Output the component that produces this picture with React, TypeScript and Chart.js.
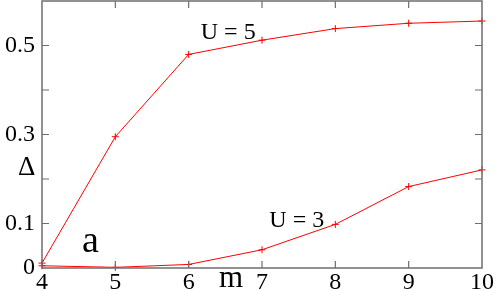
import React, { useEffect, useRef } from "react";
import { Chart, registerables } from "chart.js";

Chart.register(...registerables);

const mValues = [4, 5, 6, 7, 8, 9, 10];
const deltaU5 = [0.011, 0.295, 0.48, 0.512, 0.538, 0.55, 0.555];
const deltaU3 = [0.005, 0.0015, 0.008, 0.041, 0.098, 0.183, 0.2205];
const yTickLabels = ["0", "0.1", "0.3", "0.5"];

const FONT = "'Liberation Serif', serif";

const framePlugin = {
  id: "frame",
  afterDraw(chart: any) {
    const { ctx, chartArea: a, scales } = chart;
    const xs = scales.x;
    const ys = scales.y;
    ctx.save();
    ctx.strokeStyle = "#6e6e6e";
    ctx.lineWidth = 1.5;
    ctx.strokeRect(a.left, a.top, a.right - a.left, a.bottom - a.top);
    ctx.lineWidth = 1.2;
    const tl = 7;
    ctx.beginPath();
    for (let m = 5; m <= 9; m++) {
      const px = xs.getPixelForValue(m);
      ctx.moveTo(px, a.bottom);
      ctx.lineTo(px, a.bottom - tl);
      ctx.moveTo(px, a.top);
      ctx.lineTo(px, a.top + tl);
    }
    for (let i = 1; i <= 5; i++) {
      const py = ys.getPixelForValue(i / 10);
      ctx.moveTo(a.left, py);
      ctx.lineTo(a.left + tl, py);
      ctx.moveTo(a.right, py);
      ctx.lineTo(a.right - tl, py);
    }
    ctx.stroke();

    ctx.fillStyle = "#000";
    ctx.textBaseline = "alphabetic";
    ctx.textAlign = "left";
    ctx.font = `24px ${FONT}`;
    ctx.fillText("U = 5", xs.getPixelForValue(6.165), ys.getPixelForValue(0.5156));
    ctx.fillText("U = 3", xs.getPixelForValue(7.1), ys.getPixelForValue(0.0912));
    ctx.font = `38px ${FONT}`;
    ctx.fillText("a", xs.getPixelForValue(4.546), ys.getPixelForValue(0.036));
    ctx.font = `27px ${FONT}`;
    ctx.fillText("Δ", a.left - 24, ys.getPixelForValue(0.21));
    ctx.font = `31px ${FONT}`;
    ctx.fillText("m", xs.getPixelForValue(6.415), a.bottom + 19);
    ctx.restore();
  },
};

const makeDataset = (values: number[]) => ({
  data: mValues.map((m, i) => ({ x: m, y: values[i] })),
  borderColor: "#ff0000",
  backgroundColor: "#ff0000",
  borderWidth: 1,
  pointStyle: "cross",
  pointRadius: 3.5,
  pointBorderWidth: 1,
  pointBorderColor: "#ff0000",
  clip: false as any,
});

export default function App() {
  const ref = useRef<HTMLCanvasElement | null>(null);
  useEffect(() => {
    if (!ref.current) return;
    const chart = new Chart(ref.current, {
      type: "line",
      data: {
        datasets: [makeDataset(deltaU5), makeDataset(deltaU3)] as any,
      },
      options: {
        animation: false,
        responsive: true,
        maintainAspectRatio: false,
        layout: { padding: { top: 1, right: 15, left: 0, bottom: 0 } },
        plugins: { legend: { display: false }, tooltip: { enabled: false } },
        scales: {
          x: {
            type: "linear",
            min: 4,
            max: 10,
            afterFit: (s: any) => {
              s.height = 23;
              s.paddingLeft = 0;
              s.paddingRight = 0;
            },
            grid: { display: false, drawTicks: false },
            border: { display: false },
            ticks: {
              stepSize: 1,
              padding: 0,
              color: "#000",
              font: { family: FONT, size: 24 },
              maxRotation: 0,
            },
          },
          y: {
            min: 0,
            max: 0.6,
            afterFit: (s: any) => {
              s.width = 42;
              s.paddingTop = 0;
              s.paddingBottom = 0;
            },
            grid: { display: false, drawTicks: false },
            border: { display: false },
            ticks: {
              stepSize: 0.1,
              padding: 7,
              color: "#000",
              font: { family: FONT, size: 24 },
              callback: (v: any) => {
                const s = String(Math.round(Number(v) * 10) / 10);
                return yTickLabels.includes(s) ? s : "";
              },
            },
          },
        },
      },
      plugins: [framePlugin],
    });
    return () => chart.destroy();
  }, []);
  return (
    <>
      <style>{`body{margin:0;overflow:hidden}`}</style>
      <div style={{ width: 497, height: 295, marginTop: -4, position: "relative" }}>
        <canvas ref={ref} />
      </div>
    </>
  );
}
